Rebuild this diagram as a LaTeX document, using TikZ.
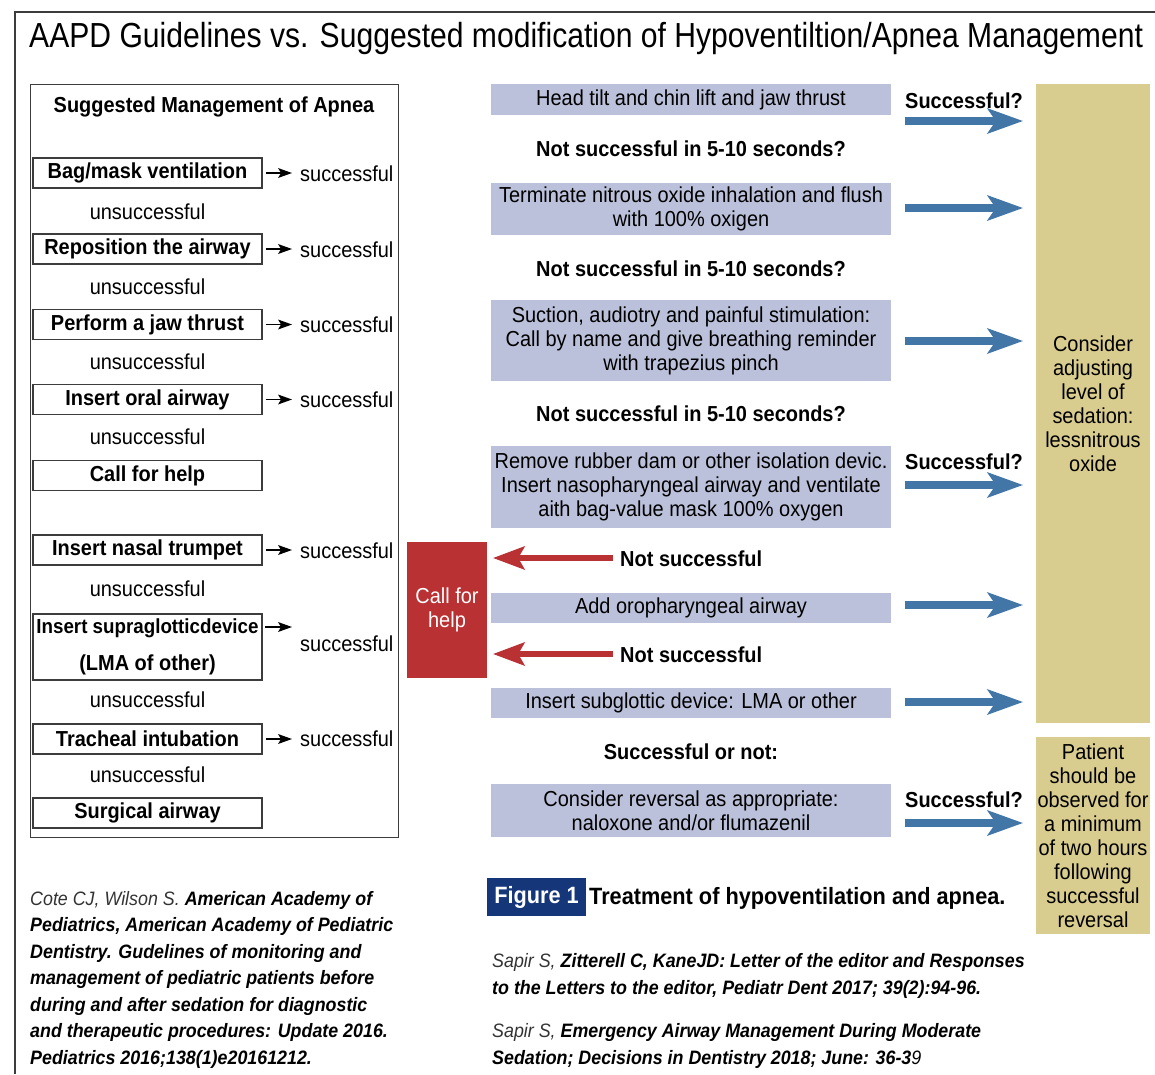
\documentclass[tikz,border=0pt]{standalone}
\usepackage{fontspec}
\setmainfont{Liberation Sans}[FakeStretch=0.92]
\newfontfamily\titlefont{Liberation Sans}[FakeStretch=0.865]
\usetikzlibrary{arrows.meta,calc}
\definecolor{lav}{RGB}{187,193,218}
\definecolor{tanc}{RGB}{216,204,142}
\definecolor{cred}{RGB}{185,49,51}
\definecolor{cblue}{RGB}{66,118,167}
\definecolor{navy}{RGB}{22,54,122}
\definecolor{framec}{RGB}{60,60,60}
\newcommand\fBody{\fontsize{21.7}{24}\selectfont}
\newcommand\fCap{\fontsize{23.6}{26}\selectfont\bfseries}
\newcommand\fCite{\fontsize{19.4}{26.5}\selectfont\itshape}
\begin{document}
\begin{tikzpicture}[x=1pt,y=-1pt,
  lbox/.style={draw=framec,line width=1.6pt,minimum width=229pt,minimum height=30pt,inner sep=0pt,font=\fBody\bfseries},
  ulab/.style={inner sep=0pt,font=\fBody},
  slab/.style={inner sep=0pt,font=\fBody,anchor=west},
  bluebox/.style={fill=lav,minimum width=400pt,inner sep=0pt,align=center,font=\fBody},
  blab/.style={inner sep=0pt,font=\fBody\bfseries},
  tanbox/.style={fill=tanc,minimum width=114pt,inner sep=0pt,align=center,font=\fBody},
  smallarrow/.style={draw=black,line width=1.9pt,-{Stealth[length=14pt,width=10pt,inset=3pt,line width=0pt]}},
  bluearrow/.style={draw=cblue,line width=7.3pt,-{Stealth[length=36pt,width=26pt,inset=9pt,line width=0pt]}},
  redarrow/.style={draw=cred,line width=6.5pt,-{Stealth[length=32pt,width=24pt,inset=7pt,line width=0pt]}},
  citestyle/.style={inner sep=0pt,align=left,font=\fCite,anchor=west}
]
\useasboundingbox (0,0) rectangle (1155,1074);
% outer frame
\draw[framec,line width=1.5pt] (15,1074) -- (15,12) -- (1155,12);
% title
\node[anchor=base west,inner sep=0pt,font=\titlefont\fontsize{34.8}{40}\selectfont] (title) at (29,47)
  {AAPD Guidelines vs. Suggested modification of Hypoventiltion/Apnea Management};

% left container
\node[draw=framec,line width=1.3pt,minimum width=368.5pt,minimum height=753pt,inner sep=0pt,anchor=north west] (lframe) at (29.5,84) {};
\node[inner sep=0pt,font=\fBody\bfseries] (lhead) at (214,107) {Suggested Management of Apnea};

\node[lbox] (b1) at (147.5,173) {Bag/mask ventilation};
\node[lbox] (b2) at (147.5,249) {Reposition the airway};
\node[lbox] (b3) at (147.5,324.5) {Perform a jaw thrust};
\node[lbox] (b4) at (147.5,399.5) {Insert oral airway};
\node[lbox] (b5) at (147.5,475.5) {Call for help};
\node[lbox] (b6) at (147.5,550) {Insert nasal trumpet};
\node[lbox,minimum height=66pt,align=center,font=\fontsize{21.7}{37}\selectfont\bfseries] (b7) at (147.5,647)
  {{\fontsize{20.4}{37}\selectfont Insert supraglotticdevice}\\(LMA of other)};
\node[lbox] (b8) at (147.5,739) {Tracheal intubation};
\node[lbox] (b9) at (147.5,813) {Surgical airway};

\node[ulab] (u1) at (147.5,212) {unsuccessful};
\node[ulab] (u2) at (147.5,287) {unsuccessful};
\node[ulab] (u3) at (147.5,362) {unsuccessful};
\node[ulab] (u4) at (147.5,437) {unsuccessful};
\node[ulab] (u6) at (147.5,589) {unsuccessful};
\node[ulab] (u7) at (147.5,700) {unsuccessful};
\node[ulab] (u8) at (147.5,775) {unsuccessful};

\node[slab] (s1) at (300,174) {successful};
\node[slab] (s2) at (300,250) {successful};
\node[slab] (s3) at (300,325) {successful};
\node[slab] (s4) at (300,400) {successful};
\node[slab] (s6) at (300,551) {successful};
\node[slab] (s7) at (300,644) {successful};
\node[slab] (s8) at (300,739) {successful};

\foreach \a/\b in {b1/s1,b2/s2,b3/s3,b4/s4,b6/s6,b8/s8}
  \draw[smallarrow,shorten <=3pt,shorten >=8pt] (\a.east) -- (\a.east -| \b.west);
\coordinate (sga) at (262,627);
\draw[smallarrow,shorten <=3pt,shorten >=8pt] (sga) -- (sga -| s7.west);

% middle column
\node[bluebox,minimum height=31pt] (n1) at (691,99.5) {Head tilt and chin lift and jaw thrust};
\node[blab] (q1) at (691,149) {Not successful in 5-10 seconds?};
\node[bluebox,minimum height=52pt] (n2) at (691,209) {Terminate nitrous oxide inhalation and flush\\with 100\% oxigen};
\node[blab] (q2) at (691,269) {Not successful in 5-10 seconds?};
\node[bluebox,minimum height=81pt] (n3) at (691,340.5) {Suction, audiotry and painful stimulation:\\Call by name and give breathing reminder\\with trapezius pinch};
\node[blab] (q3) at (691,414) {Not successful in 5-10 seconds?};
\node[bluebox,minimum height=82pt] (n4) at (691,487) {Remove rubber dam or other isolation devic.\\Insert nasopharyngeal airway and ventilate\\aith bag-value mask 100\% oxygen};
\node[blab,anchor=west] (r1) at (620,559) {Not successful};
\node[bluebox,minimum height=30pt] (n5) at (691,608) {Add oropharyngeal airway};
\node[blab,anchor=west] (r2) at (620,655) {Not successful};
\node[bluebox,minimum height=30pt] (n6) at (691,703) {Insert subglottic device: LMA or other};
\node[blab] (q4) at (691,752) {Successful or not:};
\node[bluebox,minimum height=53pt] (n7) at (691,810.5) {Consider reversal as appropriate:\\naloxone and/or flumazenil};

% call for help
\node[fill=cred,text=white,minimum width=80pt,minimum height=136pt,inner sep=0pt,align=center,font=\fBody] (cfh) at (447,610) {Call for\\help};
\coordinate (ra1) at (613,558);
\coordinate (ra2) at (613,654);
\draw[redarrow,shorten >=6pt] (ra1) -- (ra1 -| cfh.east);
\draw[redarrow,shorten >=6pt] (ra2) -- (ra2 -| cfh.east);

% right column
\node[tanbox,minimum height=639pt] (t1) at (1093,403.5) {Consider\\adjusting\\level of\\sedation:\\lessnitrous\\oxide};
\node[tanbox,minimum height=197pt] (t2) at (1093,835.5) {Patient\\should be\\observed for\\a minimum\\of two hours\\following\\successful\\reversal};

\node[blab,anchor=west] (k1) at (905,101) {Successful?};
\node[blab,anchor=west] (k2) at (905,462) {Successful?};
\node[blab,anchor=west] (k3) at (905,800) {Successful?};

\coordinate (a1) at (905,121);
\coordinate (a2) at (905,208);
\coordinate (a3) at (905,341);
\coordinate (a4) at (905,485);
\coordinate (a5) at (905,605);
\coordinate (a6) at (905,702);
\coordinate (a7) at (905,823);
\foreach \c in {a1,a2,a3,a4,a5,a6}
  \draw[bluearrow,shorten >=13pt] (\c) -- (\c -| t1.west);
\draw[bluearrow,shorten >=13pt] (a7) -- (a7 -| t2.west);

% caption
\node[fill=navy,text=white,font=\fCap,minimum width=99pt,minimum height=38pt,inner sep=0pt] (fig) at (536.5,897) {Figure 1};
\node[anchor=west,inner sep=0pt,font=\fCap] (capt) at (589,898) {Treatment of hypoventilation and apnea.};

% citations
\node[citestyle] (c1) at (30,979.5) {%
{\color{black!80}Cote CJ, Wilson S.} {\bfseries American Academy of}\\
{\bfseries Pediatrics, American Academy of Pediatric}\\
{\bfseries Dentistry. Gudelines of monitoring and}\\
{\bfseries management of pediatric patients before}\\
{\bfseries during and after sedation for diagnostic}\\
{\bfseries and therapeutic procedures: Update 2016.}\\
{\bfseries Pediatrics 2016;138(1)e20161212.}};
\node[citestyle] (c2) at (492,976) {%
{\color{black!80}Sapir S,} {\bfseries Zitterell C, KaneJD: Letter of the editor and Responses}\\
{\bfseries to the Letters to the editor, Pediatr Dent 2017; 39(2):94-96.}};
\node[citestyle] (c3) at (492,1046) {%
{\color{black!80}Sapir S,} {\bfseries Emergency Airway Management During Moderate}\\
{\bfseries Sedation; Decisions in Dentistry 2018; June: 36-3}9};
\end{tikzpicture}
\end{document}
